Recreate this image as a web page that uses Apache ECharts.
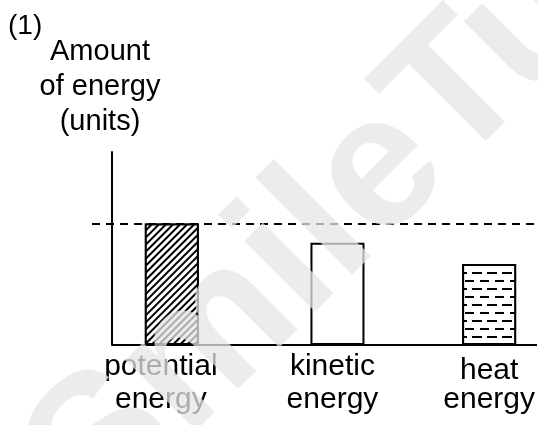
<!DOCTYPE html>
<html>
<head>
<meta charset="utf-8">
<title>Amount of energy</title>
<script src="https://cdn.jsdelivr.net/npm/echarts@6/dist/echarts.min.js"></script>
<style>
    html, body { margin: 0; padding: 0; background: #fff; }
    #chart { width: 538px; height: 425px; }
</style>
</head>
<body>
<div id="chart"></div>
<script>
// 数据
let categories = ['potential\nenergy', 'kinetic\nenergy', 'heat\nenergy'];
let barPos = [3, 11.3, 18.9];          // 柱子在x轴上的位置
let labelPos = [2.45, 11.05, 18.9];    // 标签在x轴上的位置
let energy = [6.3, 5.3, 4.2];          // 能量 (units)
let xMin = -1, xMax = 21.3;
let yMin = 0, yMax = 10;

window.onload = function () {
    let chart = echarts.init(document.getElementById('chart'));
    let font = 'Liberation Sans';

    // 每根柱子的样式
    let barStyles = [
        {
            color: '#fff', borderColor: '#000', borderWidth: 2,
            decal: {
                symbol: 'rect', symbolSize: 1, color: '#000', backgroundColor: '#fff',
                dashArrayX: [1, 0], dashArrayY: [1.8, 2.2], rotation: -Math.PI / 4
            }
        },
        { color: '#fff', borderColor: '#000', borderWidth: 2 },
        {
            color: '#fff', borderColor: '#000', borderWidth: 2,
            decal: {
                symbol: 'rect', symbolSize: 1, color: '#000', backgroundColor: '#fff',
                dashArrayX: [[9, 6], [2, 5, 8, 0]], dashArrayY: [2, 5.3], rotation: 0
            }
        }
    ];

    let barData = energy.map(function (v, i) {
        return { value: [barPos[i], v], itemStyle: barStyles[i] };
    });

    let option = {
        backgroundColor: '#fff',
        animation: false,
        grid: { left: 92, right: 0, top: 152, bottom: 80 },
        xAxis: {
            type: 'value',
            min: xMin,
            max: xMax,
            axisLine: { show: false },
            axisTick: { show: false },
            splitLine: { show: false },
            axisLabel: {
                customValues: labelPos,
                margin: 5,
                color: '#000',
                fontFamily: font,
                fontSize: 30,
                lineHeight: 33,
                formatter: function (value) {
                    let i = labelPos.indexOf(value);
                    if (i < 0) return '';
                    let lines = categories[i].split('\n');
                    if (i === 2) {
                        // heat energy 稍微往下
                        return '{h|' + lines[0] + '}\n{n|' + lines[1] + '}';
                    }
                    return '{n|' + lines[0] + '}\n{n|' + lines[1] + '}';
                },
                rich: {
                    n: { fontFamily: font, fontSize: 30, lineHeight: 33, color: '#000' },
                    h: { fontFamily: font, fontSize: 30, lineHeight: 33, color: '#000', padding: [9, 0, 0, 0] }
                }
            }
        },
        yAxis: {
            type: 'value',
            min: yMin,
            max: yMax,
            axisLine: { show: true, onZero: true, lineStyle: { color: '#000', width: 2 } },
            axisTick: { show: false },
            axisLabel: { show: false },
            splitLine: { show: false }
        },
        series: [
            {
                type: 'bar',
                barWidth: 54,
                data: barData,
                markLine: {
                    silent: true,
                    symbol: ['none', 'none'],
                    label: { show: false },
                    data: [
                        // 虚线：势能的高度
                        [
                            { coord: [xMin, energy[0]], lineStyle: { color: '#000', width: 2, type: [8, 6] } },
                            { coord: [xMax, energy[0]] }
                        ],
                        // 底线
                        [
                            { coord: [0, 0], lineStyle: { color: '#000', width: 2, type: 'solid' } },
                            { coord: [xMax, 0] }
                        ]
                    ]
                }
            }
        ],
        graphic: [
            {
                type: 'text', left: 8, top: 12,
                style: { text: '(1)', fontFamily: font, fontSize: 28, fill: '#000' }
            },
            {
                type: 'text', x: 100, y: 34,
                style: {
                    text: 'Amount\nof energy\n(units)', fontFamily: font, fontSize: 29,
                    lineHeight: 35, align: 'center', verticalAlign: 'top', fill: '#000'
                }
            },
            // 水印
            {
                type: 'text', x: 61, y: 492, rotation: Math.PI / 4, z: 100, silent: true,
                style: {
                    text: 'SmileTutor', fontFamily: font, fontSize: 189, fontWeight: 'bold',
                    align: 'left', verticalAlign: 'middle', fill: 'rgba(230,230,230,0.75)'
                }
            }
        ]
    };

    chart.setOption(option);
};
</script>
</body>
</html>
